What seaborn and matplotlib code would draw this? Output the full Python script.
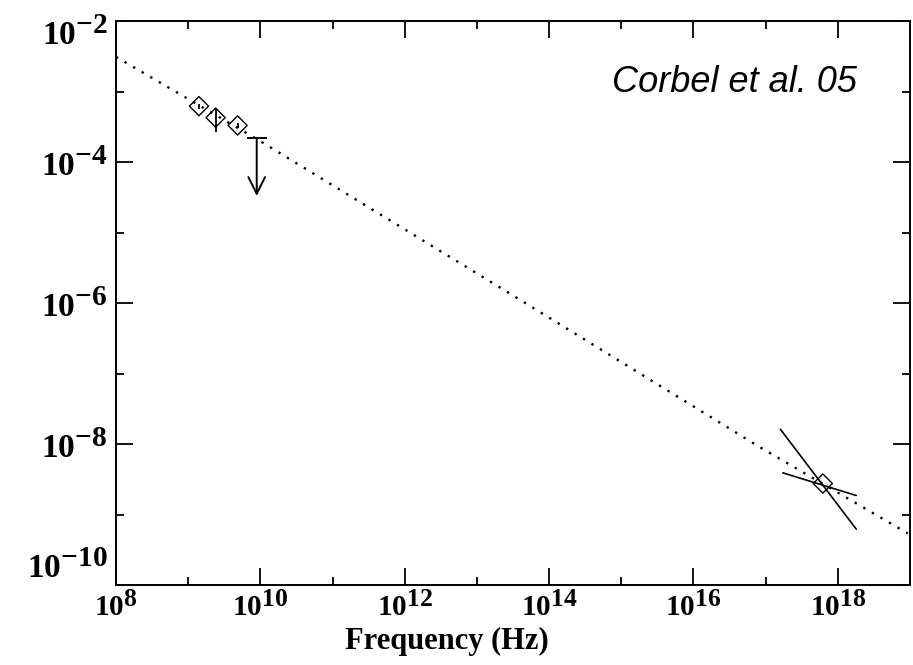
import matplotlib
matplotlib.use("Agg")
import matplotlib.pyplot as plt
import matplotlib.transforms as mtransforms
import matplotlib._mathtext as _mt
import seaborn as sns
import pandas as pd

# larger superscripts (the reference exponents are nearly full size)
_mt.SHRINK_FACTOR = 0.88

# ---------------- data ----------------
model_freq = [1.0e8, 9.8e9, 3.5e13, 7.9e16, 9.3e18]
model_flux = [3.1e-3, 2.0e-4, 1.2e-6, 9.3e-9, 5.4e-10]

radio_freq = [1.41e9, 2.4e9, 4.84e9]
radio_flux = [6.2e-4, 4.26e-4, 3.3e-4]
radio_err_lo = [0.5e-4, 1.63e-4, 0.25e-4]
radio_err_hi = [0.5e-4, 1.64e-4, 0.25e-4]

ul_freq = [8.9e9]
ul_top = [2.2e-4]
ul_bottom = [3.3e-5]

xray_freq = [6.2e17]
xray_flux = [2.75e-9]
bow_steep_freq = [1.6e17, 1.8e18]
bow_steep_flux = [1.62e-8, 6.2e-10]
bow_flat_freq = [1.73e17, 1.8e18]
bow_flat_flux = [3.9e-9, 1.86e-9]

x_ticks = [1e8, 1e10, 1e12, 1e14, 1e16, 1e18]
x_ticklabels = [r"$10^{8}$", r"$10^{10}$", r"$10^{12}$", r"$10^{14}$", r"$10^{16}$", r"$10^{18}$"]
x_minor = [1e9, 1e11, 1e13, 1e15, 1e17]
y_ticks = [1e-10, 1e-8, 1e-6, 1e-4, 1e-2]
y_ticklabels = [r"$10^{-10}$", r"$10^{-8}$", r"$10^{-6}$", r"$10^{-4}$", r"$10^{-2}$"]
y_minor = [1e-9, 1e-7, 1e-5, 1e-3]

xlabel = "Frequency (Hz)"
annotation = "Corbel et al. 05"

# ---------------- style ----------------
sns.set_style("ticks")
plt.rcParams["font.family"] = ["Liberation Serif", "DejaVu Serif"]
plt.rcParams["text.color"] = "black"
plt.rcParams["axes.labelcolor"] = "black"
plt.rcParams["mathtext.fontset"] = "custom"
plt.rcParams["mathtext.rm"] = "Liberation Serif:bold"
plt.rcParams["mathtext.it"] = "Liberation Serif:bold"
plt.rcParams["mathtext.bf"] = "Liberation Serif:bold"

fig = plt.figure(figsize=(9.13, 6.65), dpi=100)
ax = fig.add_axes([116 / 913, (665 - 585) / 665, (910 - 116) / 913, (585 - 21) / 665])
ax.set_xscale("log")
ax.set_yscale("log")

# model line
df_model = pd.DataFrame({"freq": model_freq, "flux": model_flux})
sns.lineplot(data=df_model, x="freq", y="flux", ax=ax, color="black",
             linestyle=(0, (1, 3.2)), linewidth=1.7, sort=False)

# radio points
df_radio = pd.DataFrame({"freq": radio_freq, "flux": radio_flux})
ax.errorbar(radio_freq, radio_flux, yerr=[radio_err_lo, radio_err_hi], fmt="none",
            ecolor="black", elinewidth=1.3, capsize=0, zorder=3)
sns.scatterplot(data=df_radio, x="freq", y="flux", ax=ax, marker="D", s=95,
                facecolor="none", edgecolor="black", linewidth=1.0, zorder=4)

# upper limit
for f, t, b in zip(ul_freq, ul_top, ul_bottom):
    ax.plot([f], [t], marker="_", markersize=14, markeredgewidth=1.4, color="black")
    ax.annotate("", xy=(f, b), xytext=(f, t),
                arrowprops=dict(arrowstyle="->", lw=1.4, color="black",
                                mutation_scale=30, shrinkA=0, shrinkB=0))

# X-ray bow tie
ax.plot(bow_steep_freq, bow_steep_flux, color="black", lw=1.2)
ax.plot(bow_flat_freq, bow_flat_flux, color="black", lw=1.2)
df_x = pd.DataFrame({"freq": xray_freq, "flux": xray_flux})
sns.scatterplot(data=df_x, x="freq", y="flux", ax=ax, marker="D", s=95,
                facecolor="none", edgecolor="black", linewidth=1.0, zorder=4)

ax.set_xlim(1e8, 1e19)
ax.set_ylim(1e-10, 1e-2)
ax.set_xticks(x_ticks)
ax.set_xticklabels(x_ticklabels)
ax.set_xticks(x_minor, minor=True)
ax.set_xticklabels([""] * len(x_minor), minor=True)
ax.set_yticks(y_ticks)
ax.set_yticklabels(y_ticklabels)
ax.set_yticks(y_minor, minor=True)
ax.set_yticklabels([""] * len(y_minor), minor=True)

ax.tick_params(which="both", direction="in", top=True, right=True, width=1.3,
               color="black", labelcolor="black")
ax.tick_params(which="major", length=12)
ax.tick_params(which="minor", length=6)
ax.tick_params(axis="x", which="major", pad=5, labelsize=21)
ax.tick_params(axis="y", which="major", pad=6, labelsize=24)
for s in ax.spines.values():
    s.set_linewidth(1.4)
    s.set_color("black")

ax.set_xlabel(xlabel, fontsize=22, fontweight="bold", color="black")
ax.xaxis.set_label_coords((447 - 116) / 794, (585 - 641) / 564)
ax.xaxis.label.set_va("center")
ax.set_ylabel("")

# keep end labels inside the axis range, as the reference does
yt = ax.yaxis.get_major_ticks()
yt[0].label1.set_va("bottom")
yt[-1].label1.set_transform(yt[-1].label1.get_transform() +
                            mtransforms.ScaledTranslation(0, -10 / 100, fig.dpi_scale_trans))

fig.text(612 / 913, (665 - 92) / 665, annotation, fontsize=26, fontstyle="italic",
         color="black", family=["Liberation Sans", "DejaVu Sans"], va="baseline", ha="left")

fig.savefig("out.png", dpi=100, facecolor="white")
